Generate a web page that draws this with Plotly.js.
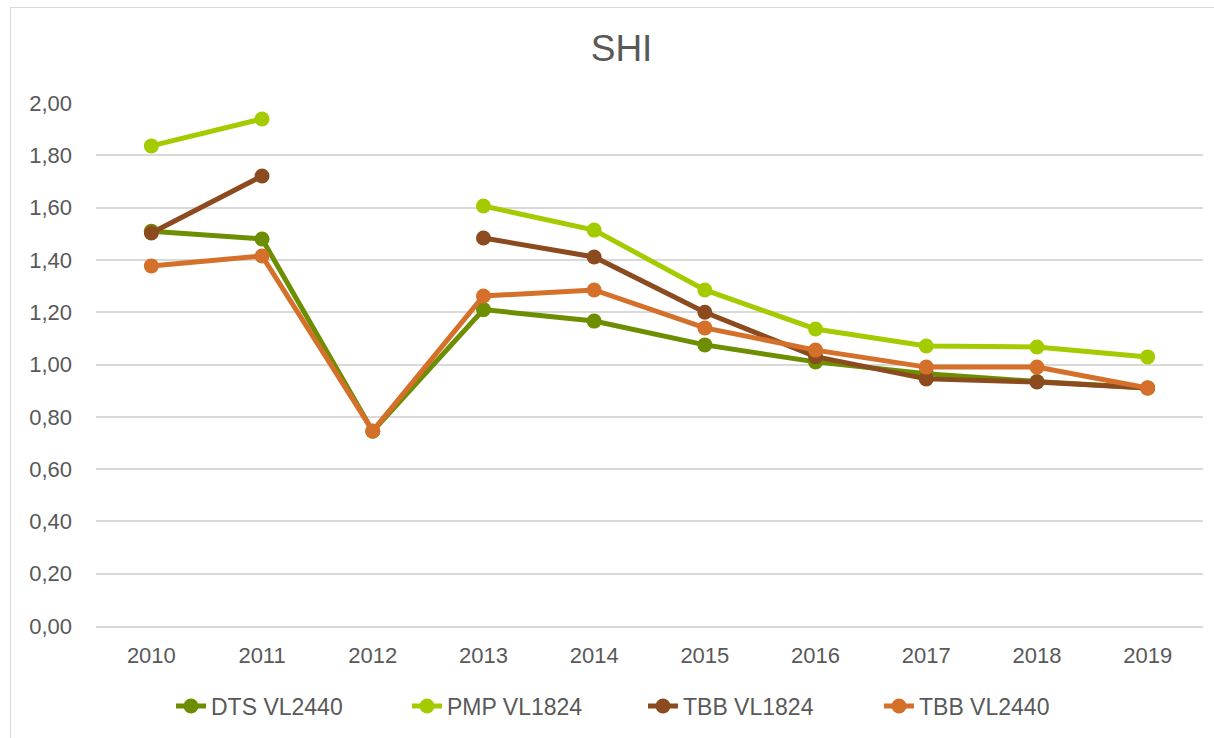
<!DOCTYPE html>
<html>
<head>
<meta charset="utf-8">
<script src="https://cdn.plot.ly/plotly-3.0.1.min.js"></script>
<style>
  html, body { margin:0; padding:0; background:#fff; overflow:hidden; }
  #chart { position:absolute; left:0; top:0; width:1214px; height:738px; }
  #frame { position:absolute; left:10px; top:7px; width:1260px; height:800px; border:1px solid #d9d9d9; pointer-events:none; }
</style>
</head>
<body>
<div id="chart"></div>
<div id="frame"></div>
<script>
const years = ['2010','2011','2012','2013','2014','2015','2016','2017','2018','2019'];
const dtsVL2440 = [1.51, 1.48, 0.745, 1.21, 1.166, 1.075, 1.01, 0.965, 0.935, 0.91];
const pmpVL1824 = [1.836, 1.939, null, 1.606, 1.514, 1.285, 1.136, 1.071, 1.067, 1.029];
const tbbVL1824 = [1.503, 1.721, null, 1.484, 1.411, 1.20, 1.03, 0.945, 0.933, 0.91];
const tbbVL2440 = [1.377, 1.415, 0.746, 1.262, 1.285, 1.14, 1.055, 0.99, 0.99, 0.91];
const yTicks = [0, 0.2, 0.4, 0.6, 0.8, 1.0, 1.2, 1.4, 1.6, 1.8, 2.0];

const seriesNames = ['DTS VL2440', 'PMP VL1824', 'TBB VL1824', 'TBB VL2440'];
const seriesData = [dtsVL2440, pmpVL1824, tbbVL1824, tbbVL2440];
const colors = ['#6e8e02', '#a3cb00', '#8c4b1e', '#d4702a'];

const traces = seriesData.map((d, i) => ({
  type: 'scatter',
  mode: 'lines+markers',
  x: years,
  y: d,
  name: seriesNames[i],
  connectgaps: false,
  line: { color: colors[i], width: 5 },
  marker: { color: colors[i], size: 15 },
  hoverinfo: 'x+y+name'
}));

const font = { family: 'Liberation Sans, Arial, sans-serif', color: '#595959' };

const layout = {
  width: 1214,
  height: 738,
  paper_bgcolor: 'rgba(0,0,0,0)',
  plot_bgcolor: '#ffffff',
  separators: ',.',
  margin: { l: 96, r: 11, t: 103, b: 112 },
  title: {
    text: 'SHI',
    x: 0.512, xref: 'container', xanchor: 'center',
    y: 1 - 48/738, yref: 'container', yanchor: 'middle',
    font: Object.assign({}, font, { size: 37 })
  },
  xaxis: {
    type: 'category',
    range: [-0.5, years.length - 0.5],
    tickvals: years,
    ticktext: years,
    showgrid: false,
    showline: true,
    linecolor: '#d9d9d9',
    linewidth: 2,
    ticks: '',
    automargin: false,
    ticklabelstandoff: 9,
    tickfont: Object.assign({}, font, { size: 22 }),
    fixedrange: true
  },
  yaxis: {
    range: [0, 2.0],
    tickvals: yTicks,
    tickformat: '.2f',
    showgrid: true,
    gridcolor: '#d9d9d9',
    gridwidth: 2,
    zeroline: false,
    showline: false,
    ticks: '',
    automargin: false,
    ticklabelstandoff: 23,
    tickfont: Object.assign({}, font, { size: 22 }),
    fixedrange: true
  },
  legend: {
    orientation: 'h',
    xref: 'container', x: 643/1214, xanchor: 'center',
    yref: 'container', y: 1 - 706/738, yanchor: 'middle',
    font: Object.assign({}, font, { size: 23 }),
    itemwidth: 30,
    entrywidth: 191,
    entrywidthmode: 'pixels',
    bgcolor: 'rgba(0,0,0,0)'
  },
  showlegend: true
};

Plotly.newPlot('chart', traces, layout, { displayModeBar: false, staticPlot: true });
</script>
</body>
</html>
